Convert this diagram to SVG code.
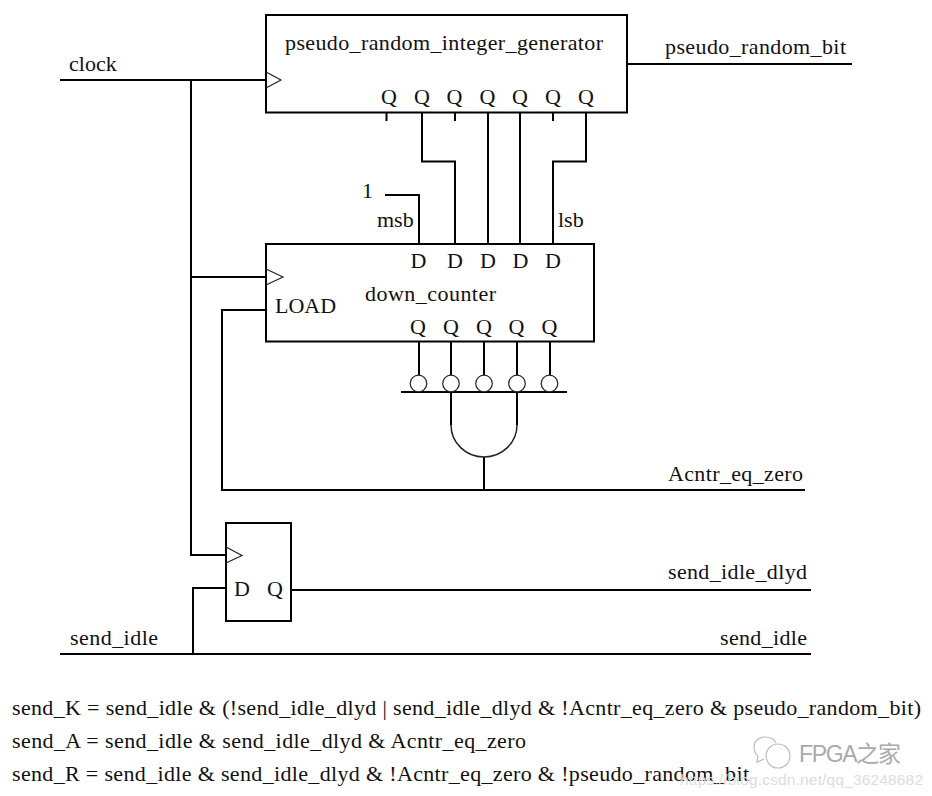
<svg xmlns="http://www.w3.org/2000/svg" width="932" height="796" viewBox="0 0 932 796">
<style>
text{font-family:"Liberation Serif","Times New Roman",serif;font-size:22px;fill:#111}
.box{fill:none;stroke:#000;stroke-width:2}
.w{fill:none;stroke:#000;stroke-width:2}
.clk{fill:none;stroke:#222;stroke-width:1.2}
.bub{fill:#fff;stroke:#222;stroke-width:1.2}
.eq{font-size:22px}
.wm{font-family:"Liberation Sans",sans-serif;fill:#ccc}
</style>
<rect width="932" height="796" fill="#fff"/>
<g id="connectors">
<path class="w" d="M60 80H266M191 80V555H226M191 277H266"/>
<path class="w" d="M627 64H852"/>
<path class="w" d="M386.500 113V121M455 113V121M553 113V121"/>
<path class="w" d="M422 113V161.500H455V244M488 113V244M520 113V244M586 113V161.500H553V244"/>
<path class="w" d="M385 195H419V244"/>
<path class="w" d="M266 310H222V490H805"/>
<path class="w" d="M419 342V375M451 342V375M484 342V375M517 342V375M550 342V375"/>
<path class="w" d="M401 392H567"/>
<path class="w" d="M451 392V425M517 392V425"/>
<path class="w" d="M484 457V490"/>
<path class="w" d="M292 590H811"/>
<path class="w" d="M226 588H193V654"/>
<path class="w" d="M60 654H811"/>
</g>
<g id="pseudo_random_integer_generator">
<rect class="box" x="266" y="15" width="361" height="97.500"/>
<path class="clk" d="M266 72L281 80L266 88"/>
<text x="285" y="50" textLength="318">pseudo_random_integer_generator</text>
<text x="381" y="104">Q</text><text x="414" y="104">Q</text><text x="446.500" y="104">Q</text><text x="479.500" y="104">Q</text><text x="512" y="104">Q</text><text x="545" y="104">Q</text><text x="578" y="104">Q</text>
</g>
<g id="down_counter">
<rect class="box" x="266" y="244" width="328" height="97.500"/>
<path class="clk" d="M266 269L283 277L266 285"/>
<text x="275" y="313">LOAD</text>
<text x="365" y="301" textLength="131">down_counter</text>
<text x="410.500" y="268">D</text><text x="447" y="268">D</text><text x="480" y="268">D</text><text x="512.500" y="268">D</text><text x="545" y="268">D</text>
<text x="410" y="334">Q</text><text x="443" y="334">Q</text><text x="476" y="334">Q</text><text x="508.500" y="334">Q</text><text x="541.500" y="334">Q</text>
</g>
<g id="inverted_and_gate">
<circle class="bub" cx="418.500" cy="383.500" r="8.300"/><circle class="bub" cx="451" cy="383.500" r="8.300"/><circle class="bub" cx="484" cy="383.500" r="8.300"/><circle class="bub" cx="517" cy="383.500" r="8.300"/><circle class="bub" cx="549.500" cy="383.500" r="8.300"/>
<path class="clk" style="stroke-width:1.500" d="M451 425A33 32 0 0 0 517 425"/>
</g>
<g id="d_flip_flop">
<rect class="box" x="226" y="523" width="65" height="98"/>
<path class="clk" d="M226 547L242 555.500L226 563"/>
<text x="234" y="596">D</text><text x="267" y="596">Q</text>
</g>
<g id="labels">
<text x="69" y="71">clock</text>
<text x="665" y="54" textLength="181">pseudo_random_bit</text>
<text x="362" y="198">1</text>
<text x="377" y="227">msb</text>
<text x="558" y="227">lsb</text>
<text x="668" y="481" textLength="135">Acntr_eq_zero</text>
<text x="668" y="579" textLength="139">send_idle_dlyd</text>
<text x="720" y="645" textLength="87">send_idle</text>
<text x="70" y="645" textLength="88">send_idle</text>
</g>
<g id="equations">
<text class="eq" x="12" y="715" textLength="909">send_K = send_idle &amp; (!send_idle_dlyd | send_idle_dlyd &amp; !Acntr_eq_zero &amp; pseudo_random_bit)</text>
<text class="eq" x="12" y="748" textLength="514">send_A = send_idle &amp; send_idle_dlyd &amp; Acntr_eq_zero</text>
<text class="eq" x="12" y="781" textLength="737">send_R = send_idle &amp; send_idle_dlyd &amp; !Acntr_eq_zero &amp; !pseudo_random_bit</text>
</g>
<g id="watermark">
<path d="M757 755c-2-2-3-6-3-8 0-6 5-10 11-10 5 0 9 2 11 6M758 755l-1 7 7-3" fill="none" stroke="#bbb" stroke-width="1.200"/>
<circle cx="778" cy="756" r="12" fill="none" stroke="#bbb" stroke-width="1.200"/>
<text x="799" y="762" style="font-size:23px;font-family:'Liberation Sans','Noto Sans CJK SC',sans-serif;fill:#aaa" textLength="102">FPGA之家</text>
<text class="wm" x="680" y="785" style="font-size:15.500px;fill:#ddd" textLength="243">https://blog.csdn.net/qq_36248682</text>
</g>
</svg>
